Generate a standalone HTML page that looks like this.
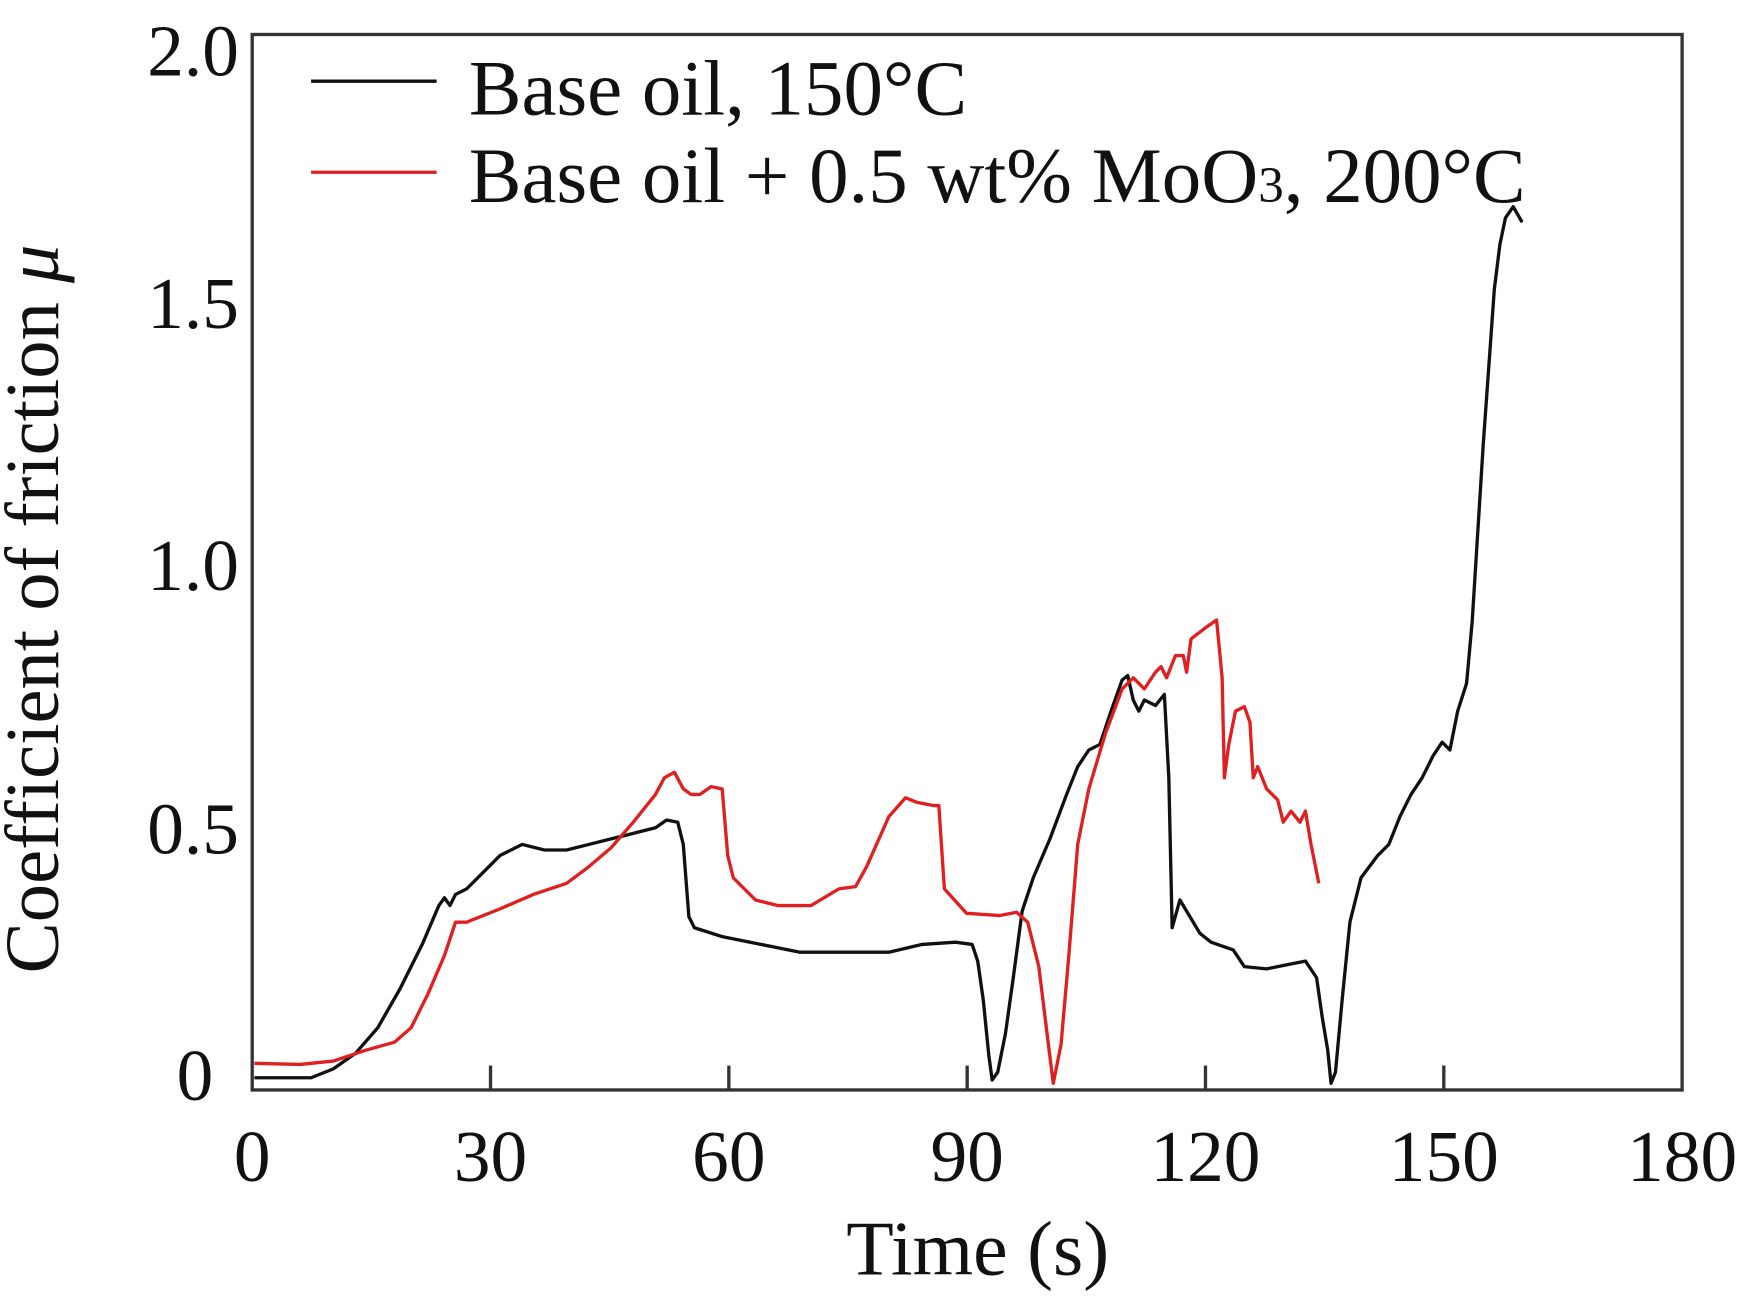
<!DOCTYPE html>
<html><head><meta charset="utf-8"><style>
html,body{margin:0;padding:0;background:#fff;}
svg{display:block;}
text{font-family:"Liberation Serif",serif;fill:#111;}
</style></head><body>
<svg width="1741" height="1297" viewBox="0 0 1567 1167.3" xmlns="http://www.w3.org/2000/svg">
<rect x="0" y="0" width="1567" height="1168" fill="#fff"/>
<rect x="227" y="31" width="1287" height="950" fill="none" stroke="#333" stroke-width="3"/>
<g stroke="#333" stroke-width="3">
<line x1="441.5" y1="981" x2="441.5" y2="959"/>
<line x1="656" y1="981" x2="656" y2="959"/>
<line x1="870.5" y1="981" x2="870.5" y2="959"/>
<line x1="1085" y1="981" x2="1085" y2="959"/>
<line x1="1299.5" y1="981" x2="1299.5" y2="959"/>
</g>
<g font-size="66" text-anchor="middle">
<text x="227" y="1063">0</text>
<text x="441.5" y="1063">30</text>
<text x="656" y="1063">60</text>
<text x="870.5" y="1063">90</text>
<text x="1085" y="1063">120</text>
<text x="1299.5" y="1063">150</text>
<text x="1514" y="1063">180</text>
</g>
<g font-size="66" text-anchor="end">
<text x="192" y="990">0</text>
<text x="215" y="768">0.5</text>
<text x="215" y="531">1.0</text>
<text x="215" y="295">1.5</text>
<text x="215" y="68">2.0</text>
</g>
<text x="880" y="1147" font-size="70" text-anchor="middle">Time (s)</text>
<text transform="translate(52,548) rotate(-90)" font-size="69" text-anchor="middle">Coefficient of friction <tspan font-style="italic">μ</tspan></text>
<line x1="280" y1="73" x2="393" y2="73" stroke="#111" stroke-width="3"/>
<line x1="280" y1="155" x2="393" y2="155" stroke="#e02020" stroke-width="3"/>
<text x="422" y="103" font-size="71">Base oil, 150°C</text>
<text x="422" y="182" font-size="71">Base oil + 0.5 wt% MoO<tspan font-size="46">3</tspan>, 200°C</text>
<polyline fill="none" stroke="#111" stroke-width="3" stroke-linejoin="round" points="229,970 280,970 300,962 320,948 340,925 360,890 380,850 395,815 400,808 405,815 410,805 420,800 430,790 450,770 470,760 490,765 510,765 530,760 550,755 570,750 590,745 600,738 610,740 615,760 620,825 625,835 650,843 700,853 720,857 800,857 830,850 860,848 875,850 880,865 885,900 890,950 893,972 898,965 905,930 912,880 920,820 930,790 945,755 960,715 970,690 980,675 990,670 1000,640 1010,612 1015,608 1020,630 1025,640 1030,630 1040,635 1048,625 1052,700 1055,835 1062,810 1068,820 1080,840 1090,848 1110,855 1120,870 1140,872 1160,868 1175,865 1185,880 1190,915 1195,945 1198,975 1202,965 1208,900 1215,830 1225,790 1240,770 1250,760 1260,735 1270,715 1280,700 1290,680 1298,668 1305,675 1312,640 1320,615 1325,560 1330,480 1335,400 1340,330 1345,260 1350,220 1355,196 1362,186 1370,200"/>
<polyline fill="none" stroke="#e02020" stroke-width="3" stroke-linejoin="round" points="229,957 270,958 300,955 330,945 355,938 370,925 385,895 400,860 410,830 420,830 450,818 480,805 510,795 530,780 550,763 570,740 590,715 598,700 607,695 615,710 622,715 630,715 640,708 650,710 655,770 660,790 680,810 700,815 730,815 755,800 770,798 780,780 800,735 815,718 825,722 840,725 845,725 850,800 870,822 900,824 915,821 925,830 935,870 943,935 948,975 955,940 962,860 970,760 980,710 995,660 1010,620 1020,610 1030,620 1040,605 1045,600 1050,610 1058,590 1065,590 1068,605 1072,575 1085,565 1095,558 1100,610 1102,700 1106,670 1112,640 1120,636 1125,650 1128,700 1132,690 1140,710 1150,720 1155,740 1162,730 1170,740 1175,730 1180,760 1187,795"/>
</svg>
</body></html>
